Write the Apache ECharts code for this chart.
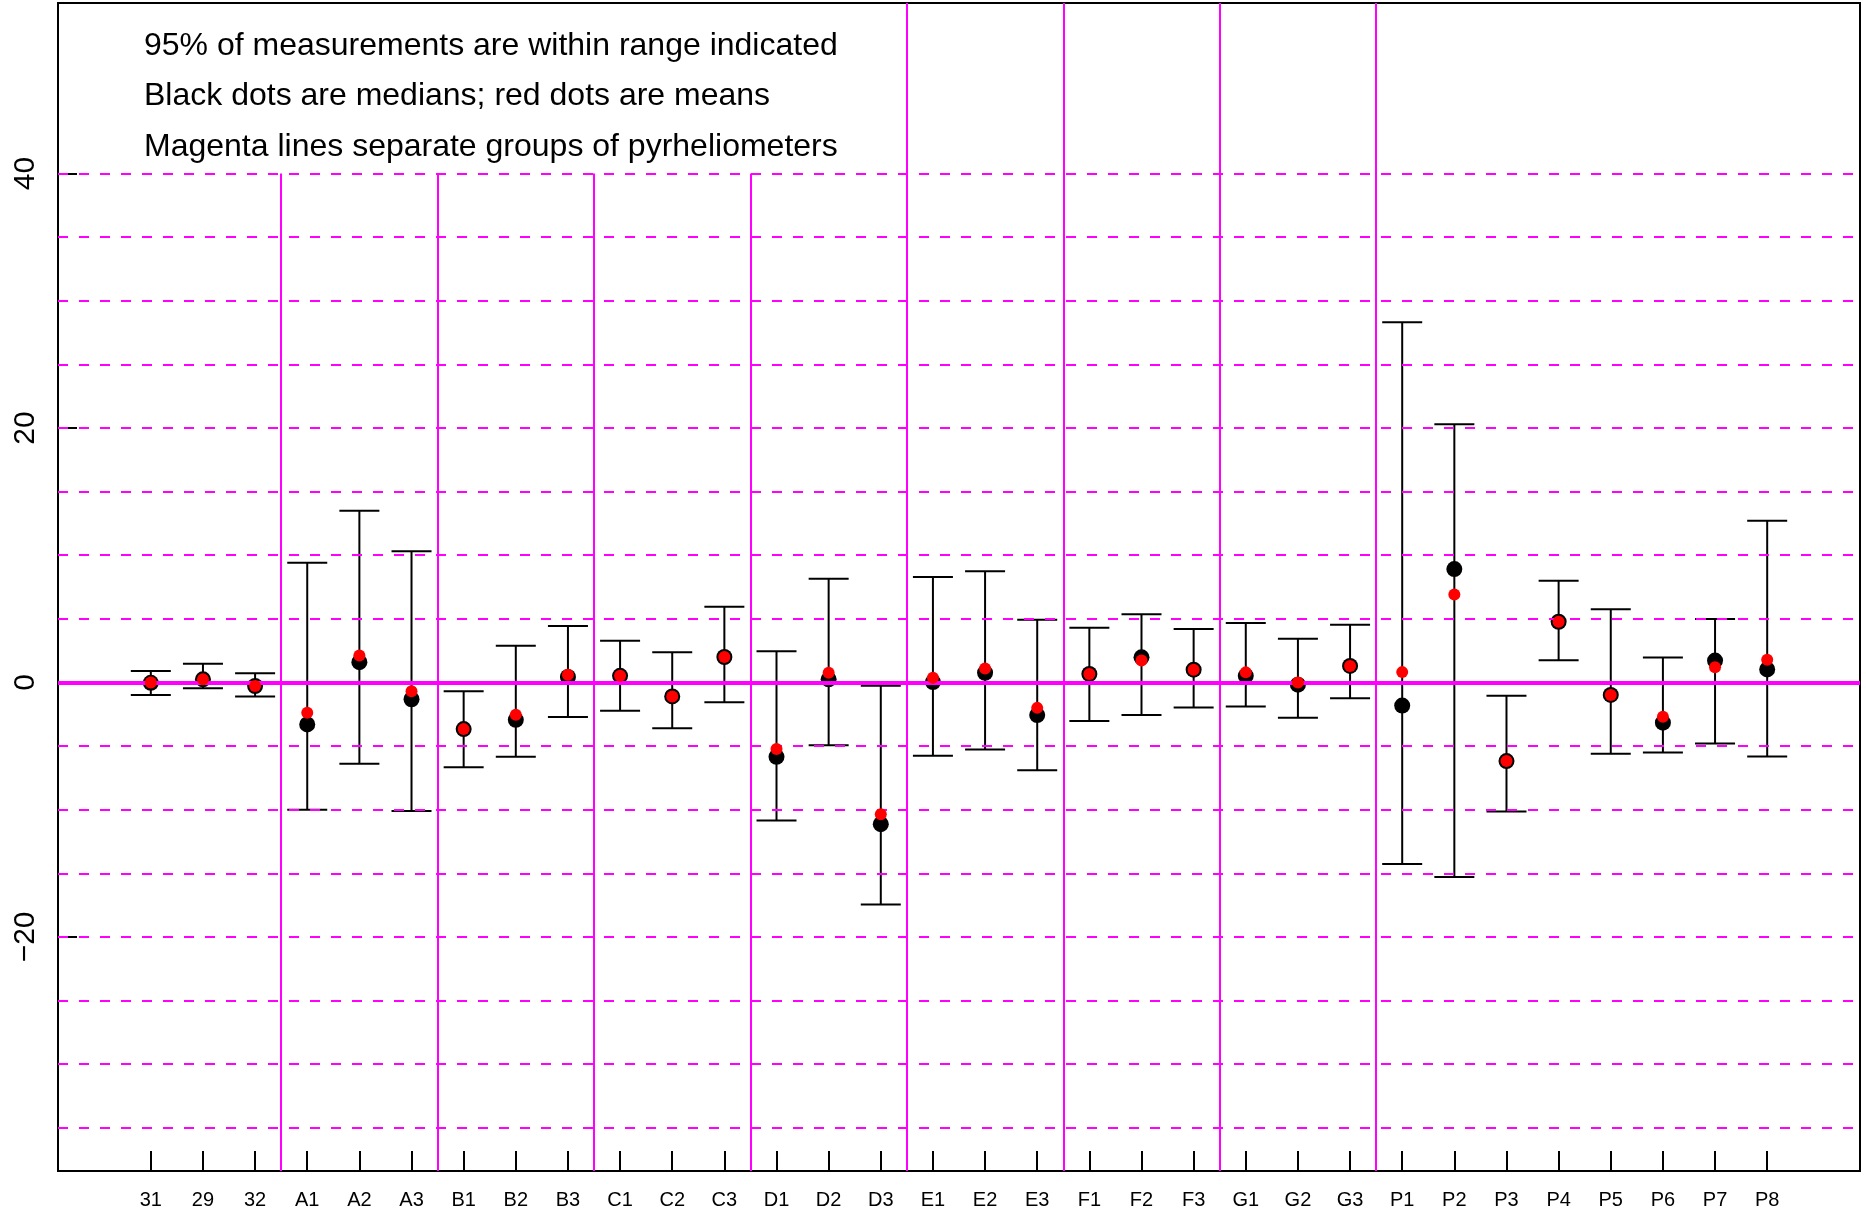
<!DOCTYPE html>
<html>
<head>
<meta charset="utf-8">
<script src="https://cdn.jsdelivr.net/npm/echarts@6/dist/echarts.min.js"></script>
<style>
  html, body { margin: 0; padding: 0; background: #fff; }
  #chart { width: 1866px; height: 1211px; }
</style>
</head>
<body>
<div id="chart"></div>
<script>
// ---- Data ----
const categories = ['31','29','32','A1','A2','A3','B1','B2','B3','C1','C2','C3','D1','D2','D3','E1','E2','E3','F1','F2','F3','G1','G2','G3','P1','P2','P3','P4','P5','P6','P7','P8'];
const groupSizes = [3, 3, 3, 3, 3, 3, 3, 3, 8];
const upper  = [0.89, 1.47, 0.73, 9.4, 13.5, 10.3, -0.7, 2.88, 4.44, 3.28, 2.38, 5.95, 2.46, 8.15, -0.26, 8.29, 8.73, 4.93, 4.3, 5.35, 4.2, 4.67, 3.44, 4.54, 28.3, 20.3, -1.05, 8.0, 5.75, 1.96, 4.98, 12.7];
const lower  = [-0.98, -0.46, -1.1, -10.0, -6.4, -10.1, -6.67, -5.85, -2.72, -2.23, -3.6, -1.55, -10.85, -4.93, -17.46, -5.77, -5.27, -6.9, -3.04, -2.57, -1.97, -1.89, -2.78, -1.24, -14.28, -15.3, -10.14, 1.75, -5.61, -5.5, -4.8, -5.82];
const medians = [-0.03, 0.24, -0.28, -3.3, 1.59, -1.32, -3.67, -2.94, 0.43, 0.52, -1.1, 2.0, -5.85, 0.24, -11.14, 0.03, 0.76, -2.57, 0.66, 1.97, 1.0, 0.52, -0.18, 1.3, -1.82, 8.91, -6.18, 4.77, -0.98, -3.16, 1.72, 1.02];
const means   = [0.0, 0.24, -0.28, -2.39, 2.11, -0.7, -3.67, -2.54, 0.61, 0.52, -1.1, 2.0, -5.24, 0.76, -10.36, 0.37, 1.1, -2.0, 0.66, 1.73, 1.0, 0.79, 0.0, 1.3, 0.81, 6.91, -6.18, 4.77, -0.98, -2.7, 1.19, 1.79];
const yTickLabels = [-20, 0, 20, 40];
const gridLineValues = [-35, -30, -25, -20, -15, -10, -5, 5, 10, 15, 20, 25, 30, 35, 40];
const notes = [
  '95% of measurements are within range indicated',
  'Black dots are medians; red dots are means',
  'Magenta lines separate groups of pyrheliometers'
];

// ---- Derived ----
const xMin = -0.78, xMax = 33.78, yMin = -38.4, yMax = 53.4;
const FONT = "'Liberation Sans', Arial, Helvetica, sans-serif";
const MAG = '#FF00FF';

const xIdx = categories.map((c, i) => i + 1);
const separators = [];
{ let acc = 0; for (let g = 0; g < groupSizes.length - 1; g++) { acc += groupSizes[g]; separators.push(acc + 0.5); } }

const barData = categories.map((c, i) => [i + 1, lower[i], upper[i]]);
const medianData = categories.map((c, i) => [i + 1, medians[i]]);
const meanData = categories.map((c, i) => [i + 1, means[i]]);

const markLines = [];
gridLineValues.forEach(v => markLines.push({ yAxis: v, lineStyle: { color: MAG, width: 2, type: [10, 11] } }));
separators.forEach(x => {
  const top = x < 14 ? 40 : yMax;
  markLines.push([{ coord: [x, top], lineStyle: { color: MAG, width: 2, type: 'solid' } }, { coord: [x, yMin] }]);
});
markLines.push({ yAxis: 0, lineStyle: { color: MAG, width: 4, type: 'solid' } });

const chart = echarts.init(document.getElementById('chart'), null, { renderer: 'canvas' });
chart.setOption({
  animation: false,
  backgroundColor: '#fff',
  textStyle: { fontFamily: FONT },
  grid: { left: 58, right: 6, top: 3, bottom: 40, show: true, borderColor: '#000', borderWidth: 2, backgroundColor: 'transparent' },
  xAxis: {
    type: 'value', min: xMin, max: xMax,
    axisLine: { show: true, onZero: false, lineStyle: { color: '#000', width: 2 } },
    axisTick: { show: true, inside: true, length: 20, customValues: xIdx, lineStyle: { color: '#000', width: 2 } },
    axisLabel: { show: true, customValues: xIdx, margin: 19, fontSize: 20, color: '#000', fontFamily: FONT,
      formatter: v => categories[Math.round(v) - 1] || '' },
    splitLine: { show: false }
  },
  yAxis: {
    type: 'value', min: yMin, max: yMax,
    axisLine: { show: true, onZero: false, lineStyle: { color: '#000', width: 2 } },
    axisTick: { show: true, inside: true, length: 19, customValues: yTickLabels, lineStyle: { color: '#000', width: 2 } },
    axisLabel: { show: true, customValues: yTickLabels, rotate: 90, margin: 17, fontSize: 30, color: '#000', fontFamily: FONT,
      formatter: v => (v < 0 ? '\u2212' + Math.abs(v) : String(v)) },
    splitLine: { show: false }
  },
  graphic: notes.map((t, i) => ({
    type: 'text', x: 144, y: 46 + i * 50.5, z: 10,
    style: { text: t, fontSize: 32, fill: '#000', fontFamily: FONT, textVerticalAlign: 'middle', textAlign: 'left' }
  })),
  series: [
    {
      type: 'scatter', data: [], z: 1, silent: true,
      markLine: { silent: true, symbol: ['none', 'none'], label: { show: false }, animation: false, data: markLines }
    },
    {
      type: 'custom', z: 3, silent: true, data: barData,
      renderItem: (params, api) => {
        const x = api.value(0), lo = api.value(1), hi = api.value(2);
        const pHi = api.coord([x, hi]), pLo = api.coord([x, lo]);
        const hw = 20;
        const st = { stroke: '#000', lineWidth: 2 };
        return { type: 'group', children: [
          { type: 'line', shape: { x1: pHi[0], y1: pHi[1], x2: pLo[0], y2: pLo[1] }, style: st },
          { type: 'line', shape: { x1: pHi[0] - hw, y1: pHi[1], x2: pHi[0] + hw, y2: pHi[1] }, style: st },
          { type: 'line', shape: { x1: pLo[0] - hw, y1: pLo[1], x2: pLo[0] + hw, y2: pLo[1] }, style: st }
        ]};
      }
    },
    { type: 'scatter', z: 4, silent: true, data: medianData, symbol: 'circle', symbolSize: 16, itemStyle: { color: '#000', opacity: 1 } },
    { type: 'scatter', z: 5, silent: true, data: meanData, symbol: 'circle', symbolSize: 12, itemStyle: { color: '#FF0000', opacity: 1 } }
  ]
});
</script>
</body>
</html>
